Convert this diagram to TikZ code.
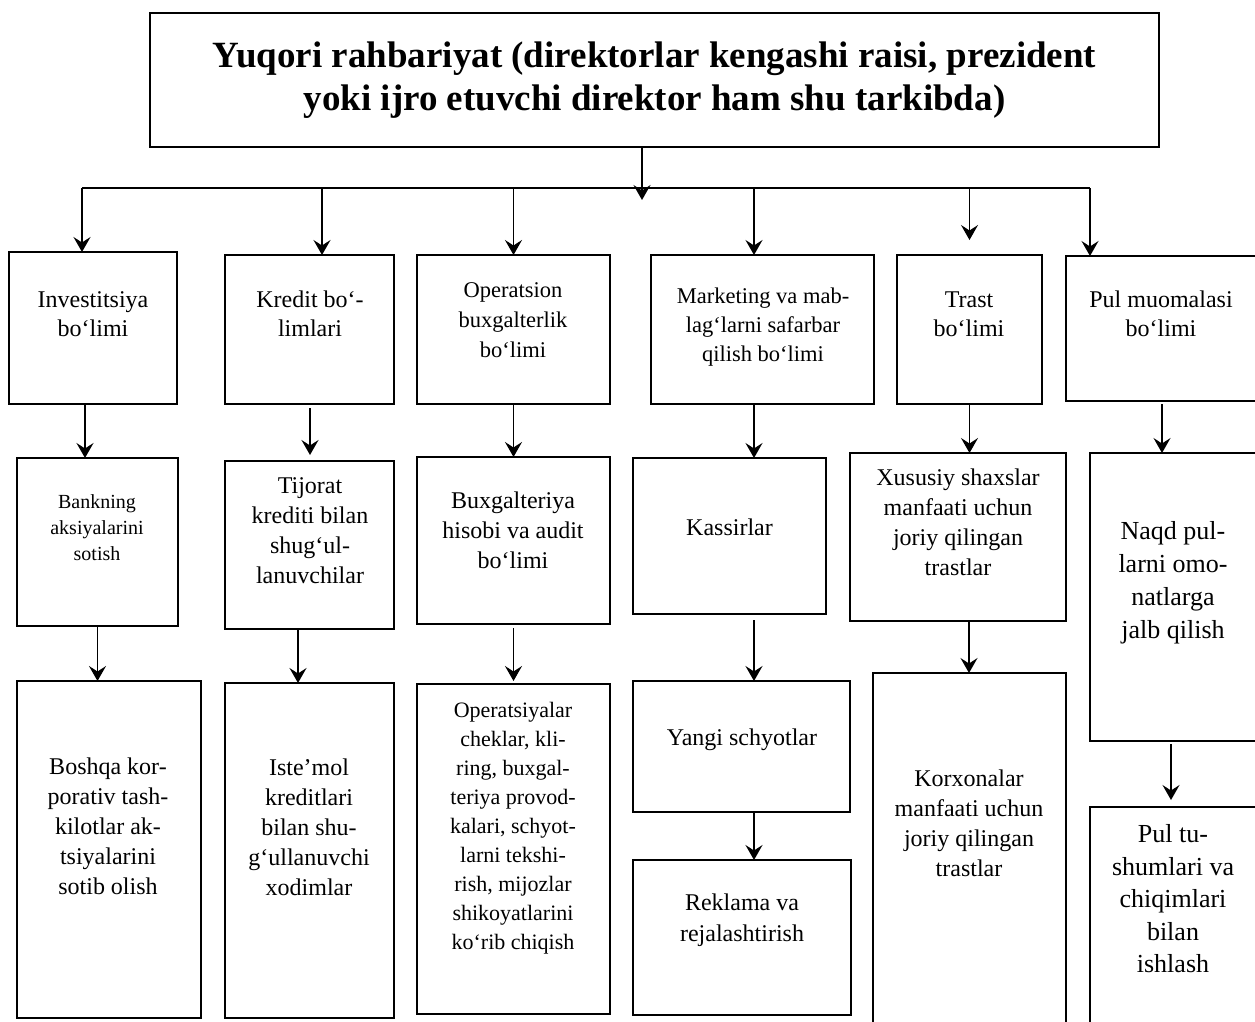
\documentclass[tikz,border=0pt]{standalone}
\usepackage{fontspec}
\setmainfont{Liberation Serif}
\usetikzlibrary{arrows.meta}
\tikzset{
  box/.style={draw=black, line width=1.8pt, inner sep=0pt, outer sep=0pt},
  arr/.style={line width=1.8pt, -{Stealth[length=15pt,width=17pt,inset=5.5pt]}},
  conn/.style={line width=1.8pt},
  txt/.style={align=center, inner sep=0pt, text=black},
}
\newcommand{\fs}[2]{\fontsize{#1}{#2}\selectfont}
\begin{document}
\begin{tikzpicture}[x=1pt,y=-1pt]
\clip (0,0) rectangle (1255,1021);
\fill[white] (0,0) rectangle (1255,1021);
% boxes
\node[box, minimum width=1009pt, minimum height=134pt] (top) at (654.5,80) {};
\node[box, minimum width=168pt, minimum height=152pt] (inv) at (93,328) {};
\node[box, minimum width=169pt, minimum height=149pt] (kred) at (309.5,329.5) {};
\node[box, minimum width=193pt, minimum height=149pt] (oper) at (513.5,329.5) {};
\node[box, minimum width=223pt, minimum height=149pt] (mark) at (762.5,329.5) {};
\node[box, minimum width=145pt, minimum height=149pt] (trast) at (969.5,329.5) {};
\node[box, minimum width=196pt, minimum height=145pt] (pul) at (1164,328.5) {};
\node[box, minimum width=161pt, minimum height=168pt] (bank) at (97.5,542) {};
\node[box, minimum width=169pt, minimum height=168pt] (tij) at (309.5,545) {};
\node[box, minimum width=193pt, minimum height=167pt] (bux) at (513.5,540.5) {};
\node[box, minimum width=193pt, minimum height=156pt] (kass) at (729.5,536) {};
\node[box, minimum width=216pt, minimum height=168pt] (xus) at (958,537) {};
\node[box, minimum width=172pt, minimum height=288pt] (naqd) at (1176,597) {};
\node[box, minimum width=184pt, minimum height=337pt] (bosh) at (109,849.5) {};
\node[box, minimum width=169pt, minimum height=335pt] (iste) at (309.5,850.5) {};
\node[box, minimum width=193pt, minimum height=330pt] (opsy) at (513.5,849) {};
\node[box, minimum width=217pt, minimum height=131pt] (yangi) at (741.5,746.5) {};
\node[box, minimum width=218pt, minimum height=155pt] (rekl) at (742,937.5) {};
\node[box, minimum width=193pt, minimum height=357pt] (korx) at (969.5,851.5) {};
\node[box, minimum width=172pt, minimum height=223pt] (pultu) at (1176,918.5) {};
% texts
\node[txt, font=\fs{37}{43}\bfseries] (topt) at (654.5,80) {Yuqori rahbariyat (direktorlar kengashi raisi, prezident\\yoki ijro etuvchi direktor ham shu tarkibda)};
\node[txt, font=\fs{24}{29}] (invt) at (93,314) {Investitsiya\\bo‘limi};
\node[txt, font=\fs{24}{29}] (kredt) at (310,314) {Kredit bo‘-\\limlari};
\node[txt, font=\fs{22.5}{30}] (opert) at (513,320) {Operatsion\\buxgalterlik\\bo‘limi};
\node[txt, font=\fs{22.5}{29}] (markt) at (763,327) {Marketing va mab-\\lag‘larni safarbar\\qilish bo‘limi};
\node[txt, font=\fs{24}{29}] (trastt) at (969,314) {Trast\\bo‘limi};
\node[txt, font=\fs{24}{29}] (pult) at (1161,314) {Pul muomalasi\\bo‘limi};
\node[txt, font=\fs{20}{26}] (bankt) at (97,528) {Bankning\\aksiyalarini\\sotish};
\node[txt, font=\fs{24}{30}] (tijt) at (310,531) {Tijorat\\krediti bilan\\shug‘ul-\\lanuvchilar};
\node[txt, font=\fs{24}{30}] (buxt) at (513,530) {Buxgalteriya\\hisobi va audit\\bo‘limi};
\node[txt, font=\fs{24}{30}] (kasst) at (729.5,527) {Kassirlar};
\node[txt, font=\fs{24}{30}] (xust) at (958,522) {Xususiy shaxslar\\manfaati uchun\\joriy qilingan\\trastlar};
\node[txt, font=\fs{26}{33}] (naqdt) at (1173,583) {Naqd pul-\\larni omo-\\natlarga\\jalb qilish};
\node[txt, font=\fs{24}{30}] (bosht) at (108,826) {Boshqa kor-\\porativ tash-\\kilotlar ak-\\tsiyalarini\\sotib olish};
\node[txt, font=\fs{24}{30}] (istet) at (309,827) {Iste’mol\\kreditlari\\bilan shu-\\g‘ullanuvchi\\xodimlar};
\node[txt, font=\fs{22}{29}] (opsyt) at (513,828) {Operatsiyalar\\cheklar, kli-\\ring, buxgal-\\teriya provod-\\kalari, schyot-\\larni tekshi-\\rish, mijozlar\\shikoyatlarini\\ko‘rib chiqish};
\node[txt, font=\fs{24}{30}] (yangit) at (742,740) {Yangi schyotlar};
\node[txt, font=\fs{24}{31}] (reklt) at (742,920) {Reklama va\\rejalashtirish};
\node[txt, font=\fs{24}{30}] (korxt) at (969,823) {Korxonalar\\manfaati uchun\\joriy qilingan\\trastlar};
\node[txt, font=\fs{26}{32.5}] (pultut) at (1173,899) {Pul tu-\\shumlari va\\chiqimlari\\bilan\\ishlash};
% bus
\coordinate (busL) at (82,188);
\coordinate (busR) at (1090,188);
\draw[arr] ([xshift=-12.5pt]top.south) -- ++(0,53);
\draw[conn] (busL) -- (busR);
\draw[arr] (busL) -- (busL |- inv.north);
\draw[arr] (322,188) -- ([xshift=12.5pt]kred.north);
\draw[arr] (513.5,188) -- (oper.north);
\draw[arr] (754,188) -- ([xshift=-8.5pt]mark.north);
\draw[arr] (969.5,188) -- ([yshift=15pt]trast.north);
\draw[arr] (busR) -- (busR |- pul.north);
% row1 -> row2
\draw[arr] ([xshift=-8pt]inv.south) -- ([xshift=-8pt]inv.south |- bank.north);
\draw[arr] ([xshift=0.5pt,yshift=-4pt]kred.south) -- ([xshift=0.5pt,yshift=6pt]kred.south |- tij.north);
\draw[arr] (oper.south) -- (oper.south |- bux.north);
\draw[arr] ([xshift=-8.5pt]mark.south) -- ([xshift=-8.5pt]mark.south |- kass.north);
\draw[arr] (trast.south) -- (trast.south |- xus.north);
\draw[arr] ([xshift=-2pt,yshift=-3pt]pul.south) -- ([xshift=-2pt]pul.south |- naqd.north);
% row2 -> row3
\draw[arr] (bank.south) -- (bank.south |- bosh.north);
\draw[arr] ([xshift=-11.5pt]tij.south) -- ([xshift=-11.5pt]tij.south |- iste.north);
\draw[arr] ([yshift=-4pt]bux.south) -- ([yshift=3pt]bux.south |- opsy.north);
\draw[arr] ([xshift=24.5pt,yshift=-6pt]kass.south) -- ([xshift=24.5pt]kass.south |- yangi.north);
\draw[arr] ([xshift=11pt]xus.south) -- ([xshift=11pt]xus.south |- korx.north);
\draw[arr] ([xshift=-5pt,yshift=-3pt]naqd.south) -- ([xshift=-5pt,yshift=7pt]naqd.south |- pultu.north);
\draw[arr] ([xshift=12.5pt]yangi.south) -- ([xshift=12.5pt]yangi.south |- rekl.north);
\end{tikzpicture}
\end{document}
